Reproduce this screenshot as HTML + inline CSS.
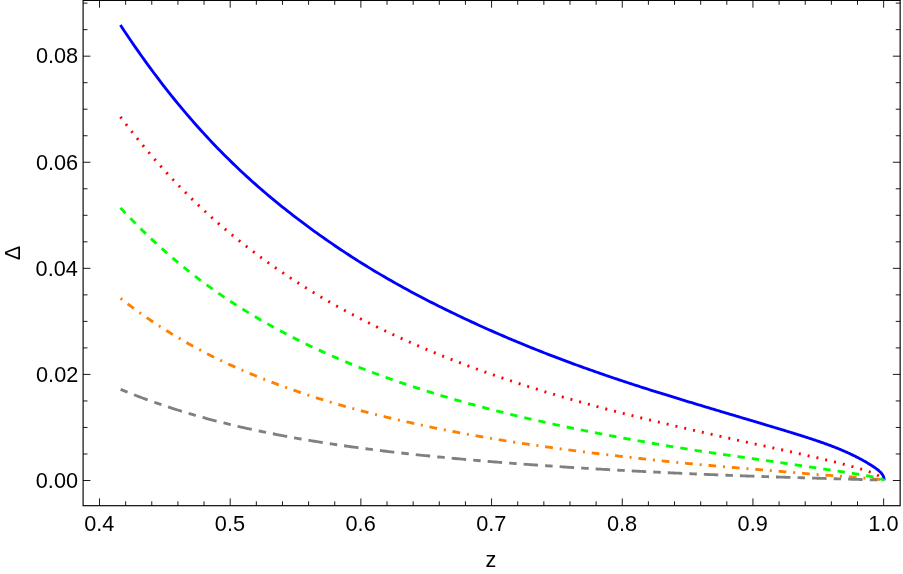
<!DOCTYPE html>
<html><head><meta charset="utf-8"><title>plot</title>
<style>html,body{margin:0;padding:0;background:#fff}svg{display:block}body{font-family:"Liberation Sans",sans-serif}</style></head>
<body>
<svg width="903" height="574" viewBox="0 0 903 574" style="will-change:transform">
<rect x="0" y="0" width="903" height="574" fill="#fff"/>
<path d="M120.40,25.02 L123.46,29.66 L126.51,34.24 L129.56,38.76 L132.60,43.21 L135.63,47.61 L138.66,51.94 L141.68,56.22 L144.69,60.43 L147.70,64.59 L150.70,68.69 L153.70,72.73 L156.69,76.72 L159.68,80.65 L162.65,84.52 L165.63,88.34 L168.59,92.11 L171.55,95.83 L174.51,99.49 L177.45,103.10 L180.40,106.66 L183.33,110.17 L186.26,113.63 L189.18,117.05 L192.10,120.41 L195.01,123.73 L197.92,127.00 L200.81,130.22 L203.71,133.40 L206.59,136.54 L209.47,139.63 L212.35,142.68 L215.22,145.68 L218.08,148.65 L220.93,151.57 L223.78,154.45 L226.63,157.29 L229.46,160.09 L232.29,162.86 L235.12,165.58 L237.94,168.27 L240.75,170.93 L243.56,173.54 L246.36,176.13 L249.15,178.67 L251.94,181.19 L254.72,183.67 L257.50,186.12 L260.27,188.54 L263.03,190.92 L265.79,193.28 L268.54,195.60 L271.28,197.90 L274.02,200.17 L276.76,202.41 L279.48,204.63 L282.20,206.82 L284.92,208.98 L287.63,211.12 L290.33,213.24 L293.03,215.33 L295.72,217.40 L298.40,219.44 L301.08,221.47 L303.75,223.47 L306.41,225.46 L309.07,227.42 L311.73,229.36 L314.37,231.29 L317.01,233.19 L319.65,235.07 L322.28,236.94 L324.90,238.78 L327.52,240.61 L330.13,242.41 L332.73,244.20 L335.33,245.97 L337.92,247.72 L340.51,249.45 L343.09,251.16 L345.66,252.86 L348.23,254.54 L350.79,256.20 L353.34,257.85 L355.89,259.47 L358.43,261.09 L360.97,262.68 L363.50,264.26 L366.03,265.82 L368.54,267.37 L371.06,268.90 L373.56,270.41 L376.06,271.91 L378.56,273.39 L381.04,274.86 L383.52,276.32 L386.00,277.76 L388.47,279.18 L390.93,280.60 L393.39,281.99 L395.84,283.38 L398.28,284.75 L400.72,286.10 L403.16,287.45 L405.58,288.78 L408.00,290.10 L410.42,291.40 L412.82,292.70 L415.22,293.98 L417.62,295.25 L420.01,296.50 L422.39,297.75 L424.77,298.98 L427.14,300.21 L429.51,301.42 L431.86,302.62 L434.22,303.81 L436.56,304.99 L438.90,306.16 L441.24,307.33 L443.57,308.48 L445.89,309.62 L448.20,310.75 L450.51,311.87 L452.82,312.99 L455.11,314.09 L457.41,315.19 L459.69,316.28 L461.97,317.36 L464.24,318.43 L466.51,319.49 L468.77,320.55 L471.02,321.60 L473.27,322.63 L475.51,323.66 L477.75,324.69 L479.98,325.70 L482.20,326.71 L484.42,327.71 L486.63,328.70 L488.84,329.68 L491.04,330.66 L493.23,331.62 L495.42,332.58 L497.60,333.54 L499.77,334.48 L501.94,335.42 L504.10,336.35 L506.26,337.27 L508.41,338.19 L510.56,339.10 L512.69,340.00 L514.82,340.90 L516.95,341.79 L519.07,342.67 L521.18,343.54 L523.29,344.41 L525.39,345.27 L527.49,346.12 L529.58,346.97 L531.66,347.81 L533.73,348.65 L535.80,349.47 L537.87,350.29 L539.93,351.11 L541.98,351.92 L544.02,352.72 L546.06,353.52 L548.10,354.31 L550.13,355.09 L552.15,355.87 L554.16,356.64 L556.17,357.41 L558.17,358.17 L560.17,358.93 L562.16,359.68 L564.15,360.42 L566.12,361.16 L568.10,361.89 L570.06,362.62 L572.02,363.34 L573.98,364.06 L575.92,364.77 L577.87,365.48 L579.80,366.18 L581.73,366.87 L583.65,367.57 L585.57,368.25 L587.48,368.93 L589.39,369.61 L591.29,370.28 L593.18,370.95 L595.06,371.61 L596.94,372.27 L598.82,372.92 L600.69,373.57 L602.55,374.21 L604.40,374.85 L606.25,375.49 L608.10,376.12 L609.93,376.74 L611.77,377.36 L613.59,377.98 L615.41,378.59 L617.22,379.20 L619.03,379.81 L620.83,380.41 L622.62,381.01 L624.41,381.60 L626.19,382.19 L627.97,382.77 L629.74,383.35 L631.50,383.93 L633.26,384.50 L635.01,385.07 L636.76,385.64 L638.50,386.20 L640.23,386.75 L641.96,387.31 L643.68,387.86 L645.39,388.41 L647.10,388.95 L648.80,389.49 L650.50,390.03 L652.19,390.56 L653.87,391.09 L655.55,391.62 L657.22,392.14 L658.89,392.67 L660.55,393.18 L662.20,393.70 L663.85,394.21 L665.49,394.72 L667.12,395.22 L668.75,395.73 L670.37,396.23 L671.99,396.72 L673.60,397.22 L675.21,397.71 L676.80,398.20 L678.40,398.68 L679.98,399.17 L681.56,399.65 L683.13,400.13 L684.70,400.60 L686.26,401.08 L687.82,401.55 L689.37,402.02 L690.91,402.48 L692.45,402.95 L693.98,403.41 L695.50,403.87 L697.02,404.33 L698.53,404.78 L700.04,405.23 L701.54,405.69 L703.03,406.13 L704.52,406.58 L706.00,407.03 L707.48,407.47 L708.95,407.91 L710.41,408.35 L711.87,408.78 L713.32,409.22 L714.76,409.65 L716.20,410.08 L717.63,410.51 L719.06,410.93 L720.48,411.36 L721.89,411.78 L723.30,412.20 L724.70,412.62 L726.10,413.04 L727.49,413.45 L728.87,413.86 L730.25,414.27 L731.62,414.68 L732.98,415.09 L734.34,415.49 L735.69,415.90 L737.04,416.30 L738.38,416.70 L739.72,417.09 L741.04,417.49 L742.37,417.88 L743.68,418.27 L744.99,418.66 L746.30,419.05 L747.59,419.44 L748.88,419.82 L750.17,420.20 L751.45,420.58 L752.72,420.96 L753.99,421.34 L755.25,421.72 L756.50,422.09 L757.75,422.46 L758.99,422.83 L760.23,423.20 L761.46,423.57 L762.68,423.94 L763.90,424.30 L765.11,424.66 L766.32,425.02 L767.52,425.38 L768.71,425.74 L769.90,426.09 L771.08,426.45 L772.25,426.80 L773.42,427.15 L774.58,427.50 L775.74,427.85 L776.89,428.20 L778.04,428.54 L779.17,428.88 L780.30,429.23 L781.43,429.57 L782.55,429.91 L783.66,430.24 L784.77,430.58 L785.87,430.91 L786.97,431.25 L788.06,431.58 L789.14,431.91 L790.22,432.24 L791.29,432.57 L792.35,432.90 L793.41,433.23 L794.46,433.55 L795.51,433.88 L796.55,434.20 L797.58,434.52 L798.61,434.84 L799.63,435.16 L800.64,435.48 L801.65,435.80 L802.66,436.12 L803.65,436.43 L804.64,436.75 L805.63,437.07 L806.61,437.38 L807.58,437.69 L808.55,438.01 L809.51,438.32 L810.46,438.63 L811.41,438.94 L812.35,439.25 L813.28,439.56 L814.21,439.87 L815.14,440.18 L816.05,440.49 L816.96,440.80 L817.87,441.11 L818.77,441.41 L819.66,441.72 L820.55,442.03 L821.43,442.33 L822.30,442.64 L823.17,442.94 L824.03,443.25 L824.89,443.55 L825.74,443.86 L826.58,444.16 L827.42,444.47 L828.25,444.77 L829.07,445.08 L829.89,445.38 L830.71,445.69 L831.51,445.99 L832.31,446.30 L833.11,446.60 L833.90,446.91 L834.68,447.21 L835.45,447.52 L836.22,447.82 L836.99,448.13 L837.75,448.43 L838.50,448.74 L839.24,449.05 L839.98,449.35 L840.71,449.66 L841.44,449.96 L842.16,450.27 L842.88,450.58 L843.59,450.88 L844.29,451.19 L844.98,451.50 L845.67,451.80 L846.36,452.11 L847.04,452.41 L847.71,452.72 L848.37,453.02 L849.03,453.32 L849.69,453.63 L850.33,453.93 L850.97,454.23 L851.61,454.54 L852.24,454.84 L852.86,455.14 L853.48,455.44 L854.09,455.74 L854.69,456.04 L855.29,456.34 L855.88,456.63 L856.47,456.93 L857.05,457.22 L857.62,457.52 L858.19,457.81 L858.75,458.10 L859.31,458.40 L859.85,458.69 L860.40,458.98 L860.93,459.26 L861.46,459.55 L861.99,459.84 L862.51,460.12 L863.02,460.41 L863.53,460.69 L864.03,460.97 L864.52,461.25 L865.01,461.52 L865.49,461.80 L865.96,462.08 L866.43,462.35 L866.90,462.62 L867.35,462.89 L867.80,463.16 L868.25,463.42 L868.69,463.69 L869.12,463.95 L869.55,464.21 L869.97,464.47 L870.38,464.73 L870.79,464.99 L871.19,465.24 L871.59,465.49 L871.98,465.74 L872.36,465.99 L872.74,466.23 L873.11,466.48 L873.47,466.72 L873.83,466.96 L874.18,467.19 L874.53,467.43 L874.87,467.66 L875.21,467.90 L875.53,468.13 L875.86,468.36 L876.17,468.59 L876.48,468.81 L876.79,469.04 L877.08,469.27 L877.37,469.49 L877.66,469.71 L877.94,469.94 L878.21,470.16 L878.48,470.38 L878.74,470.60 L878.99,470.82 L879.24,471.04 L879.48,471.26 L879.72,471.47 L879.95,471.69 L880.17,471.91 L880.39,472.13 L880.60,472.35 L880.81,472.57 L881.01,472.78 L881.20,473.00 L881.39,473.22 L881.57,473.44 L881.75,473.66 L881.91,473.88 L882.08,474.10 L882.23,474.32 L882.38,474.54 L882.53,474.77 L882.67,474.99 L882.80,475.21 L882.92,475.44 L883.04,475.67 L883.16,475.90 L883.26,476.13 L883.36,476.36 L883.46,476.59 L883.55,476.82 L883.63,477.06 L883.71,477.30 L883.78,477.53 L883.84,477.78 L883.90,478.02 L883.95,478.26 L884.00,478.51 L884.04,478.76 L884.07,479.01 L884.10,479.26 L884.12,479.52 L884.14,479.78 L884.15,480.04 L884.15,480.30" fill="none" stroke="#0000ff" stroke-width="2.85" stroke-linecap="butt" stroke-linejoin="round"/>
<path d="M120.40,116.81 L123.46,120.86 L126.51,124.85 L129.56,128.78 L132.60,132.65 L135.63,136.47 L138.66,140.23 L141.68,143.94 L144.69,147.59 L147.70,151.18 L150.70,154.73 L153.70,158.21 L156.69,161.65 L159.68,165.04 L162.65,168.37 L165.63,171.66 L168.59,174.90 L171.55,178.09 L174.51,181.23 L177.45,184.32 L180.40,187.37 L183.33,190.37 L186.26,193.33 L189.18,196.24 L192.10,199.11 L195.01,201.94 L197.92,204.72 L200.81,207.47 L203.71,210.17 L206.59,212.84 L209.47,215.46 L212.35,218.05 L215.22,220.60 L218.08,223.11 L220.93,225.59 L223.78,228.03 L226.63,230.43 L229.46,232.80 L232.29,235.14 L235.12,237.45 L237.94,239.73 L240.75,241.97 L243.56,244.18 L246.36,246.37 L249.15,248.52 L251.94,250.65 L254.72,252.75 L257.50,254.82 L260.27,256.87 L263.03,258.89 L265.79,260.89 L268.54,262.86 L271.28,264.81 L274.02,266.74 L276.76,268.64 L279.48,270.52 L282.20,272.38 L284.92,274.21 L287.63,276.03 L290.33,277.82 L293.03,279.59 L295.72,281.34 L298.40,283.07 L301.08,284.78 L303.75,286.47 L306.41,288.14 L309.07,289.78 L311.73,291.41 L314.37,293.02 L317.01,294.61 L319.65,296.18 L322.28,297.74 L324.90,299.27 L327.52,300.79 L330.13,302.29 L332.73,303.77 L335.33,305.23 L337.92,306.68 L340.51,308.11 L343.09,309.52 L345.66,310.92 L348.23,312.30 L350.79,313.67 L353.34,315.02 L355.89,316.35 L358.43,317.68 L360.97,318.98 L363.50,320.27 L366.03,321.55 L368.54,322.82 L371.06,324.07 L373.56,325.30 L376.06,326.53 L378.56,327.74 L381.04,328.94 L383.52,330.13 L386.00,331.30 L388.47,332.46 L390.93,333.61 L393.39,334.76 L395.84,335.88 L398.28,337.00 L400.72,338.11 L403.16,339.21 L405.58,340.30 L408.00,341.37 L410.42,342.44 L412.82,343.50 L415.22,344.54 L417.62,345.58 L420.01,346.61 L422.39,347.63 L424.77,348.63 L427.14,349.63 L429.51,350.62 L431.86,351.60 L434.22,352.57 L436.56,353.53 L438.90,354.48 L441.24,355.43 L443.57,356.36 L445.89,357.29 L448.20,358.20 L450.51,359.11 L452.82,360.01 L455.11,360.90 L457.41,361.79 L459.69,362.66 L461.97,363.53 L464.24,364.39 L466.51,365.24 L468.77,366.08 L471.02,366.92 L473.27,367.75 L475.51,368.57 L477.75,369.38 L479.98,370.19 L482.20,370.99 L484.42,371.78 L486.63,372.56 L488.84,373.34 L491.04,374.11 L493.23,374.87 L495.42,375.63 L497.60,376.38 L499.77,377.13 L501.94,377.86 L504.10,378.60 L506.26,379.32 L508.41,380.04 L510.56,380.75 L512.69,381.46 L514.82,382.16 L516.95,382.86 L519.07,383.55 L521.18,384.23 L523.29,384.91 L525.39,385.59 L527.49,386.25 L529.58,386.92 L531.66,387.57 L533.73,388.23 L535.80,388.87 L537.87,389.51 L539.93,390.15 L541.98,390.78 L544.02,391.40 L546.06,392.02 L548.10,392.64 L550.13,393.25 L552.15,393.85 L554.16,394.46 L556.17,395.05 L558.17,395.64 L560.17,396.23 L562.16,396.81 L564.15,397.39 L566.12,397.96 L568.10,398.53 L570.06,399.09 L572.02,399.65 L573.98,400.20 L575.92,400.75 L577.87,401.30 L579.80,401.84 L581.73,402.38 L583.65,402.91 L585.57,403.44 L587.48,403.96 L589.39,404.48 L591.29,405.00 L593.18,405.52 L595.06,406.02 L596.94,406.53 L598.82,407.03 L600.69,407.53 L602.55,408.03 L604.40,408.52 L606.25,409.00 L608.10,409.49 L609.93,409.97 L611.77,410.45 L613.59,410.92 L615.41,411.39 L617.22,411.86 L619.03,412.32 L620.83,412.78 L622.62,413.24 L624.41,413.69 L626.19,414.15 L627.97,414.59 L629.74,415.04 L631.50,415.48 L633.26,415.92 L635.01,416.36 L636.76,416.79 L638.50,417.22 L640.23,417.65 L641.96,418.07 L643.68,418.49 L645.39,418.91 L647.10,419.33 L648.80,419.74 L650.50,420.15 L652.19,420.56 L653.87,420.97 L655.55,421.37 L657.22,421.77 L658.89,422.17 L660.55,422.56 L662.20,422.95 L663.85,423.35 L665.49,423.73 L667.12,424.12 L668.75,424.50 L670.37,424.88 L671.99,425.26 L673.60,425.64 L675.21,426.01 L676.80,426.38 L678.40,426.75 L679.98,427.12 L681.56,427.49 L683.13,427.85 L684.70,428.21 L686.26,428.57 L687.82,428.93 L689.37,429.28 L690.91,429.64 L692.45,429.99 L693.98,430.34 L695.50,430.69 L697.02,431.03 L698.53,431.38 L700.04,431.72 L701.54,432.06 L703.03,432.40 L704.52,432.74 L706.00,433.07 L707.48,433.40 L708.95,433.74 L710.41,434.07 L711.87,434.39 L713.32,434.72 L714.76,435.05 L716.20,435.37 L717.63,435.69 L719.06,436.01 L720.48,436.33 L721.89,436.65 L723.30,436.96 L724.70,437.27 L726.10,437.58 L727.49,437.89 L728.87,438.20 L730.25,438.51 L731.62,438.81 L732.98,439.12 L734.34,439.42 L735.69,439.72 L737.04,440.02 L738.38,440.31 L739.72,440.61 L741.04,440.90 L742.37,441.19 L743.68,441.48 L744.99,441.77 L746.30,442.06 L747.59,442.35 L748.88,442.63 L750.17,442.91 L751.45,443.20 L752.72,443.48 L753.99,443.75 L755.25,444.03 L756.50,444.31 L757.75,444.58 L758.99,444.85 L760.23,445.12 L761.46,445.39 L762.68,445.66 L763.90,445.93 L765.11,446.19 L766.32,446.46 L767.52,446.72 L768.71,446.98 L769.90,447.24 L771.08,447.50 L772.25,447.75 L773.42,448.01 L774.58,448.26 L775.74,448.52 L776.89,448.77 L778.04,449.02 L779.17,449.27 L780.30,449.52 L781.43,449.76 L782.55,450.01 L783.66,450.25 L784.77,450.50 L785.87,450.74 L786.97,450.98 L788.06,451.22 L789.14,451.46 L790.22,451.69 L791.29,451.93 L792.35,452.17 L793.41,452.40 L794.46,452.63 L795.51,452.86 L796.55,453.10 L797.58,453.32 L798.61,453.55 L799.63,453.78 L800.64,454.01 L801.65,454.23 L802.66,454.46 L803.65,454.68 L804.64,454.91 L805.63,455.13 L806.61,455.35 L807.58,455.57 L808.55,455.79 L809.51,456.01 L810.46,456.22 L811.41,456.44 L812.35,456.65 L813.28,456.87 L814.21,457.08 L815.14,457.30 L816.05,457.51 L816.96,457.72 L817.87,457.93 L818.77,458.14 L819.66,458.35 L820.55,458.56 L821.43,458.77 L822.30,458.97 L823.17,459.18 L824.03,459.39 L824.89,459.59 L825.74,459.79 L826.58,460.00 L827.42,460.20 L828.25,460.40 L829.07,460.60 L829.89,460.80 L830.71,461.00 L831.51,461.20 L832.31,461.39 L833.11,461.59 L833.90,461.78 L834.68,461.98 L835.45,462.17 L836.22,462.36 L836.99,462.56 L837.75,462.75 L838.50,462.94 L839.24,463.13 L839.98,463.32 L840.71,463.50 L841.44,463.69 L842.16,463.88 L842.88,464.06 L843.59,464.25 L844.29,464.43 L844.98,464.61 L845.67,464.79 L846.36,464.97 L847.04,465.15 L847.71,465.33 L848.37,465.51 L849.03,465.69 L849.69,465.86 L850.33,466.04 L850.97,466.21 L851.61,466.39 L852.24,466.56 L852.86,466.73 L853.48,466.90 L854.09,467.07 L854.69,467.24 L855.29,467.41 L855.88,467.58 L856.47,467.75 L857.05,467.91 L857.62,468.08 L858.19,468.24 L858.75,468.41 L859.31,468.57 L859.85,468.73 L860.40,468.89 L860.93,469.05 L861.46,469.21 L861.99,469.37 L862.51,469.53 L863.02,469.69 L863.53,469.85 L864.03,470.00 L864.52,470.16 L865.01,470.32 L865.49,470.47 L865.96,470.63 L866.43,470.78 L866.90,470.94 L867.35,471.09 L867.80,471.25 L868.25,471.40 L868.69,471.55 L869.12,471.70 L869.55,471.86 L869.97,472.01 L870.38,472.16 L870.79,472.31 L871.19,472.46 L871.59,472.61 L871.98,472.76 L872.36,472.91 L872.74,473.07 L873.11,473.22 L873.47,473.37 L873.83,473.52 L874.18,473.67 L874.53,473.82 L874.87,473.97 L875.21,474.12 L875.53,474.27 L875.86,474.42 L876.17,474.57 L876.48,474.72 L876.79,474.87 L877.08,475.02 L877.37,475.17 L877.66,475.32 L877.94,475.47 L878.21,475.62 L878.48,475.77 L878.74,475.91 L878.99,476.06 L879.24,476.21 L879.48,476.35 L879.72,476.50 L879.95,476.64 L880.17,476.79 L880.39,476.93 L880.60,477.07 L880.81,477.21 L881.01,477.34 L881.20,477.48 L881.39,477.61 L881.57,477.74 L881.75,477.87 L881.91,478.00 L882.08,478.13 L882.23,478.25 L882.38,478.37 L882.53,478.49 L882.67,478.60 L882.80,478.72 L882.92,478.83 L883.04,478.93 L883.16,479.04 L883.26,479.14 L883.36,479.24 L883.46,479.33 L883.55,479.43 L883.63,479.51 L883.71,479.60 L883.78,479.68 L883.84,479.76 L883.90,479.83 L883.95,479.90 L884.00,479.96 L884.04,480.03 L884.07,480.08 L884.10,480.14 L884.12,480.18 L884.14,480.23 L884.15,480.27 L884.15,480.30" fill="none" stroke="#ff0000" stroke-width="2.85" stroke-linecap="butt" stroke-linejoin="round" stroke-dasharray="2.0 7.03" stroke-dashoffset="0"/>
<path d="M120.40,207.89 L123.46,211.14 L126.51,214.35 L129.56,217.51 L132.60,220.63 L135.63,223.69 L138.66,226.71 L141.68,229.69 L144.69,232.62 L147.70,235.51 L150.70,238.35 L153.70,241.15 L156.69,243.90 L159.68,246.62 L162.65,249.29 L165.63,251.92 L168.59,254.51 L171.55,257.06 L174.51,259.57 L177.45,262.05 L180.40,264.48 L183.33,266.88 L186.26,269.24 L189.18,271.57 L192.10,273.86 L195.01,276.11 L197.92,278.33 L200.81,280.52 L203.71,282.67 L206.59,284.79 L209.47,286.88 L212.35,288.94 L215.22,290.97 L218.08,292.96 L220.93,294.93 L223.78,296.87 L226.63,298.78 L229.46,300.66 L232.29,302.51 L235.12,304.34 L237.94,306.14 L240.75,307.91 L243.56,309.66 L246.36,311.39 L249.15,313.09 L251.94,314.77 L254.72,316.42 L257.50,318.06 L260.27,319.67 L263.03,321.26 L265.79,322.83 L268.54,324.38 L271.28,325.92 L274.02,327.43 L276.76,328.92 L279.48,330.40 L282.20,331.85 L284.92,333.29 L287.63,334.71 L290.33,336.11 L293.03,337.50 L295.72,338.86 L298.40,340.21 L301.08,341.54 L303.75,342.86 L306.41,344.16 L309.07,345.44 L311.73,346.71 L314.37,347.96 L317.01,349.19 L319.65,350.41 L322.28,351.61 L324.90,352.80 L327.52,353.97 L330.13,355.13 L332.73,356.28 L335.33,357.41 L337.92,358.52 L340.51,359.63 L343.09,360.72 L345.66,361.79 L348.23,362.85 L350.79,363.90 L353.34,364.94 L355.89,365.97 L358.43,366.98 L360.97,367.98 L363.50,368.97 L366.03,369.95 L368.54,370.91 L371.06,371.87 L373.56,372.81 L376.06,373.74 L378.56,374.67 L381.04,375.58 L383.52,376.48 L386.00,377.38 L388.47,378.26 L390.93,379.14 L393.39,380.00 L395.84,380.86 L398.28,381.71 L400.72,382.55 L403.16,383.38 L405.58,384.20 L408.00,385.01 L410.42,385.82 L412.82,386.62 L415.22,387.41 L417.62,388.19 L420.01,388.96 L422.39,389.73 L424.77,390.48 L427.14,391.24 L429.51,391.98 L431.86,392.71 L434.22,393.44 L436.56,394.16 L438.90,394.87 L441.24,395.58 L443.57,396.28 L445.89,396.97 L448.20,397.66 L450.51,398.33 L452.82,399.01 L455.11,399.67 L457.41,400.33 L459.69,400.98 L461.97,401.62 L464.24,402.26 L466.51,402.89 L468.77,403.52 L471.02,404.14 L473.27,404.75 L475.51,405.36 L477.75,405.96 L479.98,406.56 L482.20,407.15 L484.42,407.74 L486.63,408.31 L488.84,408.89 L491.04,409.46 L493.23,410.02 L495.42,410.58 L497.60,411.13 L499.77,411.68 L501.94,412.22 L504.10,412.76 L506.26,413.29 L508.41,413.82 L510.56,414.34 L512.69,414.86 L514.82,415.37 L516.95,415.88 L519.07,416.39 L521.18,416.89 L523.29,417.39 L525.39,417.88 L527.49,418.37 L529.58,418.85 L531.66,419.33 L533.73,419.80 L535.80,420.27 L537.87,420.74 L539.93,421.20 L541.98,421.66 L544.02,422.12 L546.06,422.57 L548.10,423.02 L550.13,423.46 L552.15,423.90 L554.16,424.34 L556.17,424.77 L558.17,425.20 L560.17,425.62 L562.16,426.04 L564.15,426.46 L566.12,426.88 L568.10,427.29 L570.06,427.70 L572.02,428.10 L573.98,428.50 L575.92,428.90 L577.87,429.30 L579.80,429.69 L581.73,430.08 L583.65,430.46 L585.57,430.85 L587.48,431.23 L589.39,431.60 L591.29,431.98 L593.18,432.35 L595.06,432.72 L596.94,433.08 L598.82,433.45 L600.69,433.81 L602.55,434.16 L604.40,434.52 L606.25,434.87 L608.10,435.22 L609.93,435.57 L611.77,435.92 L613.59,436.26 L615.41,436.60 L617.22,436.94 L619.03,437.28 L620.83,437.61 L622.62,437.94 L624.41,438.27 L626.19,438.60 L627.97,438.92 L629.74,439.24 L631.50,439.56 L633.26,439.88 L635.01,440.20 L636.76,440.51 L638.50,440.82 L640.23,441.13 L641.96,441.44 L643.68,441.74 L645.39,442.04 L647.10,442.34 L648.80,442.64 L650.50,442.93 L652.19,443.23 L653.87,443.52 L655.55,443.81 L657.22,444.09 L658.89,444.38 L660.55,444.66 L662.20,444.94 L663.85,445.22 L665.49,445.49 L667.12,445.77 L668.75,446.04 L670.37,446.31 L671.99,446.57 L673.60,446.84 L675.21,447.10 L676.80,447.36 L678.40,447.62 L679.98,447.88 L681.56,448.13 L683.13,448.39 L684.70,448.64 L686.26,448.88 L687.82,449.13 L689.37,449.37 L690.91,449.62 L692.45,449.86 L693.98,450.10 L695.50,450.33 L697.02,450.57 L698.53,450.80 L700.04,451.03 L701.54,451.26 L703.03,451.48 L704.52,451.71 L706.00,451.93 L707.48,452.15 L708.95,452.37 L710.41,452.59 L711.87,452.81 L713.32,453.02 L714.76,453.23 L716.20,453.45 L717.63,453.66 L719.06,453.86 L720.48,454.07 L721.89,454.28 L723.30,454.48 L724.70,454.68 L726.10,454.88 L727.49,455.08 L728.87,455.28 L730.25,455.48 L731.62,455.67 L732.98,455.87 L734.34,456.06 L735.69,456.25 L737.04,456.45 L738.38,456.64 L739.72,456.82 L741.04,457.01 L742.37,457.20 L743.68,457.39 L744.99,457.57 L746.30,457.75 L747.59,457.94 L748.88,458.12 L750.17,458.30 L751.45,458.48 L752.72,458.66 L753.99,458.84 L755.25,459.02 L756.50,459.19 L757.75,459.37 L758.99,459.55 L760.23,459.72 L761.46,459.90 L762.68,460.07 L763.90,460.25 L765.11,460.42 L766.32,460.59 L767.52,460.76 L768.71,460.94 L769.90,461.11 L771.08,461.28 L772.25,461.45 L773.42,461.62 L774.58,461.78 L775.74,461.95 L776.89,462.12 L778.04,462.28 L779.17,462.45 L780.30,462.62 L781.43,462.78 L782.55,462.94 L783.66,463.11 L784.77,463.27 L785.87,463.43 L786.97,463.59 L788.06,463.75 L789.14,463.91 L790.22,464.07 L791.29,464.23 L792.35,464.38 L793.41,464.54 L794.46,464.70 L795.51,464.85 L796.55,465.00 L797.58,465.16 L798.61,465.31 L799.63,465.46 L800.64,465.61 L801.65,465.76 L802.66,465.91 L803.65,466.06 L804.64,466.20 L805.63,466.35 L806.61,466.50 L807.58,466.64 L808.55,466.78 L809.51,466.93 L810.46,467.07 L811.41,467.21 L812.35,467.35 L813.28,467.49 L814.21,467.62 L815.14,467.76 L816.05,467.90 L816.96,468.03 L817.87,468.16 L818.77,468.30 L819.66,468.43 L820.55,468.56 L821.43,468.69 L822.30,468.82 L823.17,468.95 L824.03,469.07 L824.89,469.20 L825.74,469.33 L826.58,469.45 L827.42,469.57 L828.25,469.70 L829.07,469.82 L829.89,469.94 L830.71,470.06 L831.51,470.18 L832.31,470.30 L833.11,470.41 L833.90,470.53 L834.68,470.65 L835.45,470.76 L836.22,470.88 L836.99,470.99 L837.75,471.10 L838.50,471.21 L839.24,471.33 L839.98,471.44 L840.71,471.55 L841.44,471.66 L842.16,471.76 L842.88,471.87 L843.59,471.98 L844.29,472.08 L844.98,472.19 L845.67,472.30 L846.36,472.40 L847.04,472.50 L847.71,472.61 L848.37,472.71 L849.03,472.81 L849.69,472.91 L850.33,473.01 L850.97,473.11 L851.61,473.21 L852.24,473.31 L852.86,473.41 L853.48,473.50 L854.09,473.60 L854.69,473.70 L855.29,473.79 L855.88,473.89 L856.47,473.98 L857.05,474.08 L857.62,474.17 L858.19,474.26 L858.75,474.36 L859.31,474.45 L859.85,474.54 L860.40,474.63 L860.93,474.72 L861.46,474.81 L861.99,474.90 L862.51,474.99 L863.02,475.08 L863.53,475.17 L864.03,475.25 L864.52,475.34 L865.01,475.43 L865.49,475.51 L865.96,475.60 L866.43,475.69 L866.90,475.77 L867.35,475.85 L867.80,475.94 L868.25,476.02 L868.69,476.11 L869.12,476.19 L869.55,476.27 L869.97,476.35 L870.38,476.43 L870.79,476.51 L871.19,476.60 L871.59,476.68 L871.98,476.76 L872.36,476.84 L872.74,476.91 L873.11,476.99 L873.47,477.07 L873.83,477.15 L874.18,477.23 L874.53,477.30 L874.87,477.38 L875.21,477.46 L875.53,477.53 L875.86,477.61 L876.17,477.69 L876.48,477.76 L876.79,477.84 L877.08,477.91 L877.37,477.98 L877.66,478.06 L877.94,478.13 L878.21,478.20 L878.48,478.28 L878.74,478.35 L878.99,478.42 L879.24,478.49 L879.48,478.56 L879.72,478.63 L879.95,478.70 L880.17,478.76 L880.39,478.83 L880.60,478.89 L880.81,478.96 L881.01,479.02 L881.20,479.09 L881.39,479.15 L881.57,479.21 L881.75,479.27 L881.91,479.32 L882.08,479.38 L882.23,479.44 L882.38,479.49 L882.53,479.54 L882.67,479.60 L882.80,479.65 L882.92,479.69 L883.04,479.74 L883.16,479.79 L883.26,479.83 L883.36,479.87 L883.46,479.91 L883.55,479.95 L883.63,479.99 L883.71,480.03 L883.78,480.06 L883.84,480.09 L883.90,480.12 L883.95,480.15 L884.00,480.18 L884.04,480.20 L884.07,480.22 L884.10,480.24 L884.12,480.26 L884.14,480.28 L884.15,480.29 L884.15,480.30" fill="none" stroke="#00ff00" stroke-width="2.85" stroke-linecap="butt" stroke-linejoin="round" stroke-dasharray="7.4 7.05" stroke-dashoffset="0"/>
<path d="M120.60,298.46 L123.66,300.82 L126.71,303.15 L129.75,305.44 L132.79,307.69 L135.82,309.90 L138.85,312.08 L141.87,314.23 L144.89,316.34 L147.89,318.42 L150.90,320.46 L153.89,322.47 L156.88,324.44 L159.87,326.39 L162.84,328.30 L165.81,330.18 L168.78,332.03 L171.74,333.85 L174.69,335.64 L177.64,337.40 L180.58,339.13 L183.51,340.84 L186.44,342.51 L189.37,344.16 L192.28,345.78 L195.19,347.37 L198.10,348.94 L200.99,350.48 L203.88,352.00 L206.77,353.49 L209.65,354.96 L212.52,356.41 L215.39,357.83 L218.25,359.22 L221.11,360.60 L223.95,361.95 L226.80,363.29 L229.63,364.60 L232.46,365.89 L235.29,367.16 L238.11,368.41 L240.92,369.65 L243.72,370.86 L246.52,372.06 L249.32,373.23 L252.10,374.40 L254.89,375.54 L257.66,376.67 L260.43,377.78 L263.19,378.88 L265.95,379.96 L268.70,381.03 L271.44,382.09 L274.18,383.13 L276.92,384.15 L279.64,385.17 L282.36,386.17 L285.08,387.15 L287.78,388.13 L290.48,389.09 L293.18,390.04 L295.87,390.97 L298.55,391.90 L301.23,392.81 L303.90,393.70 L306.57,394.59 L309.22,395.47 L311.88,396.33 L314.52,397.18 L317.16,398.02 L319.80,398.85 L322.42,399.67 L325.05,400.48 L327.66,401.28 L330.27,402.06 L332.88,402.84 L335.47,403.61 L338.06,404.36 L340.65,405.11 L343.23,405.85 L345.80,406.58 L348.37,407.29 L350.93,408.00 L353.48,408.70 L356.03,409.40 L358.57,410.08 L361.11,410.75 L363.64,411.42 L366.16,412.08 L368.68,412.73 L371.19,413.37 L373.70,414.01 L376.20,414.63 L378.69,415.25 L381.17,415.87 L383.66,416.47 L386.13,417.07 L388.60,417.67 L391.06,418.25 L393.52,418.83 L395.97,419.41 L398.41,419.98 L400.85,420.54 L403.28,421.09 L405.71,421.64 L408.13,422.19 L410.54,422.73 L412.95,423.26 L415.35,423.79 L417.74,424.31 L420.13,424.83 L422.51,425.34 L424.89,425.85 L427.26,426.35 L429.62,426.84 L431.98,427.33 L434.33,427.82 L436.68,428.30 L439.02,428.77 L441.35,429.24 L443.68,429.71 L446.00,430.17 L448.32,430.62 L450.63,431.07 L452.93,431.52 L455.23,431.96 L457.52,432.40 L459.80,432.83 L462.08,433.25 L464.35,433.68 L466.62,434.09 L468.88,434.51 L471.13,434.92 L473.38,435.32 L475.62,435.72 L477.86,436.12 L480.09,436.51 L482.31,436.90 L484.53,437.28 L486.74,437.66 L488.94,438.04 L491.14,438.41 L493.33,438.78 L495.52,439.14 L497.70,439.50 L499.87,439.86 L502.04,440.21 L504.20,440.56 L506.36,440.91 L508.51,441.25 L510.65,441.59 L512.79,441.93 L514.92,442.26 L517.05,442.59 L519.17,442.92 L521.28,443.24 L523.38,443.56 L525.49,443.88 L527.58,444.19 L529.67,444.50 L531.75,444.81 L533.83,445.11 L535.90,445.41 L537.96,445.71 L540.02,446.01 L542.07,446.30 L544.11,446.59 L546.15,446.88 L548.19,447.16 L550.21,447.44 L552.23,447.72 L554.25,448.00 L556.26,448.27 L558.26,448.54 L560.26,448.81 L562.25,449.08 L564.23,449.34 L566.21,449.60 L568.18,449.86 L570.15,450.12 L572.10,450.37 L574.06,450.63 L576.01,450.88 L577.95,451.13 L579.88,451.37 L581.81,451.62 L583.73,451.86 L585.65,452.10 L587.56,452.33 L589.46,452.57 L591.36,452.80 L593.25,453.04 L595.14,453.27 L597.02,453.50 L598.89,453.72 L600.76,453.95 L602.62,454.17 L604.48,454.39 L606.33,454.61 L608.17,454.83 L610.01,455.05 L611.84,455.26 L613.66,455.48 L615.48,455.69 L617.29,455.90 L619.10,456.11 L620.90,456.32 L622.69,456.53 L624.48,456.73 L626.26,456.94 L628.04,457.14 L629.81,457.34 L631.57,457.54 L633.33,457.74 L635.08,457.94 L636.82,458.13 L638.56,458.33 L640.29,458.52 L642.02,458.71 L643.74,458.90 L645.45,459.09 L647.16,459.27 L648.86,459.46 L650.56,459.64 L652.25,459.82 L653.93,460.00 L655.61,460.18 L657.28,460.36 L658.95,460.54 L660.61,460.71 L662.26,460.88 L663.91,461.06 L665.55,461.23 L667.18,461.40 L668.81,461.56 L670.43,461.73 L672.05,461.89 L673.66,462.06 L675.26,462.22 L676.86,462.38 L678.45,462.54 L680.03,462.69 L681.61,462.85 L683.19,463.00 L684.75,463.16 L686.31,463.31 L687.87,463.46 L689.42,463.61 L690.96,463.75 L692.50,463.90 L694.03,464.04 L695.55,464.19 L697.07,464.33 L698.58,464.47 L700.09,464.61 L701.59,464.74 L703.08,464.88 L704.57,465.01 L706.05,465.15 L707.52,465.28 L708.99,465.41 L710.45,465.54 L711.91,465.67 L713.36,465.79 L714.81,465.92 L716.24,466.05 L717.68,466.17 L719.10,466.29 L720.52,466.41 L721.93,466.54 L723.34,466.66 L724.74,466.77 L726.14,466.89 L727.53,467.01 L728.91,467.13 L730.29,467.24 L731.66,467.36 L733.02,467.47 L734.38,467.58 L735.73,467.70 L737.08,467.81 L738.42,467.92 L739.75,468.03 L741.08,468.14 L742.40,468.25 L743.72,468.35 L745.03,468.46 L746.33,468.57 L747.63,468.68 L748.92,468.78 L750.20,468.89 L751.48,468.99 L752.76,469.10 L754.02,469.20 L755.28,469.31 L756.54,469.41 L757.78,469.51 L759.03,469.62 L760.26,469.72 L761.49,469.82 L762.72,469.92 L763.93,470.02 L765.14,470.13 L766.35,470.23 L767.55,470.33 L768.74,470.43 L769.93,470.53 L771.11,470.63 L772.28,470.73 L773.45,470.83 L774.61,470.93 L775.77,471.03 L776.92,471.13 L778.06,471.22 L779.20,471.32 L780.33,471.42 L781.46,471.52 L782.58,471.61 L783.69,471.71 L784.80,471.80 L785.90,471.90 L786.99,471.99 L788.08,472.08 L789.16,472.18 L790.24,472.27 L791.31,472.36 L792.37,472.45 L793.43,472.54 L794.48,472.63 L795.53,472.72 L796.57,472.81 L797.60,472.90 L798.63,472.99 L799.65,473.07 L800.67,473.16 L801.67,473.24 L802.68,473.33 L803.67,473.41 L804.66,473.49 L805.65,473.57 L806.63,473.66 L807.60,473.74 L808.56,473.82 L809.52,473.89 L810.48,473.97 L811.43,474.05 L812.37,474.12 L813.30,474.20 L814.23,474.27 L815.15,474.34 L816.07,474.42 L816.98,474.49 L817.89,474.56 L818.79,474.63 L819.68,474.69 L820.56,474.76 L821.44,474.83 L822.32,474.89 L823.19,474.96 L824.05,475.02 L824.90,475.09 L825.75,475.15 L826.60,475.21 L827.43,475.27 L828.26,475.33 L829.09,475.39 L829.91,475.45 L830.72,475.51 L831.53,475.56 L832.33,475.62 L833.12,475.68 L833.91,475.73 L834.69,475.79 L835.47,475.84 L836.24,475.90 L837.00,475.95 L837.76,476.00 L838.51,476.06 L839.25,476.11 L839.99,476.16 L840.73,476.21 L841.45,476.26 L842.17,476.31 L842.89,476.36 L843.60,476.41 L844.30,476.46 L844.99,476.51 L845.68,476.56 L846.37,476.61 L847.05,476.66 L847.72,476.71 L848.38,476.75 L849.04,476.80 L849.70,476.85 L850.34,476.90 L850.98,476.95 L851.62,476.99 L852.25,477.04 L852.87,477.09 L853.49,477.14 L854.10,477.18 L854.70,477.23 L855.30,477.28 L855.89,477.33 L856.48,477.37 L857.05,477.42 L857.63,477.47 L858.20,477.51 L858.76,477.56 L859.31,477.61 L859.86,477.66 L860.40,477.70 L860.94,477.75 L861.47,477.79 L861.99,477.84 L862.51,477.89 L863.03,477.93 L863.53,477.98 L864.03,478.02 L864.52,478.07 L865.01,478.11 L865.49,478.16 L865.97,478.20 L866.44,478.24 L866.90,478.29 L867.36,478.33 L867.81,478.37 L868.25,478.41 L868.69,478.45 L869.12,478.50 L869.55,478.54 L869.97,478.58 L870.38,478.62 L870.79,478.66 L871.19,478.69 L871.59,478.73 L871.98,478.77 L872.36,478.81 L872.74,478.84 L873.11,478.88 L873.48,478.91 L873.83,478.95 L874.19,478.98 L874.53,479.02 L874.87,479.05 L875.21,479.08 L875.54,479.11 L875.86,479.14 L876.17,479.17 L876.48,479.20 L876.79,479.23 L877.08,479.26 L877.38,479.29 L877.66,479.31 L877.94,479.34 L878.21,479.37 L878.48,479.39 L878.74,479.41 L879.00,479.44 L879.24,479.46 L879.49,479.48 L879.72,479.51 L879.95,479.53 L880.18,479.55 L880.39,479.57 L880.61,479.59 L880.81,479.61 L881.01,479.63 L881.20,479.65 L881.39,479.67 L881.57,479.69 L881.75,479.71 L881.91,479.73 L882.08,479.75 L882.23,479.77 L882.38,479.79 L882.53,479.81 L882.67,479.82 L882.80,479.84 L882.92,479.86 L883.04,479.88 L883.16,479.90 L883.26,479.92 L883.36,479.94 L883.46,479.96 L883.55,479.98 L883.63,480.00 L883.71,480.02 L883.78,480.04 L883.84,480.06 L883.90,480.08 L883.95,480.11 L884.00,480.13 L884.04,480.15 L884.07,480.18 L884.10,480.20 L884.12,480.22 L884.14,480.25 L884.15,480.27 L884.15,480.30" fill="none" stroke="#ff8000" stroke-width="2.85" stroke-linecap="butt" stroke-linejoin="round" stroke-dasharray="2.0 6.84 7.8 6.84" stroke-dashoffset="0"/>
<path d="M120.60,389.41 L123.66,390.66 L126.71,391.89 L129.75,393.10 L132.79,394.29 L135.82,395.46 L138.85,396.61 L141.87,397.75 L144.89,398.86 L147.89,399.96 L150.90,401.04 L153.89,402.10 L156.88,403.15 L159.87,404.18 L162.84,405.19 L165.81,406.19 L168.78,407.17 L171.74,408.13 L174.69,409.08 L177.64,410.01 L180.58,410.93 L183.51,411.83 L186.44,412.71 L189.37,413.58 L192.28,414.44 L195.19,415.28 L198.10,416.11 L200.99,416.93 L203.88,417.73 L206.77,418.52 L209.65,419.29 L212.52,420.05 L215.39,420.80 L218.25,421.54 L221.11,422.27 L223.95,422.98 L226.80,423.68 L229.63,424.37 L232.46,425.05 L235.29,425.72 L238.11,426.37 L240.92,427.02 L243.72,427.65 L246.52,428.28 L249.32,428.89 L252.10,429.50 L254.89,430.10 L257.66,430.68 L260.43,431.26 L263.19,431.83 L265.95,432.39 L268.70,432.94 L271.44,433.49 L274.18,434.02 L276.92,434.55 L279.64,435.07 L282.36,435.59 L285.08,436.10 L287.78,436.60 L290.48,437.09 L293.18,437.58 L295.87,438.06 L298.55,438.53 L301.23,439.00 L303.90,439.46 L306.57,439.91 L309.22,440.36 L311.88,440.80 L314.52,441.24 L317.16,441.67 L319.80,442.09 L322.42,442.51 L325.05,442.92 L327.66,443.32 L330.27,443.72 L332.88,444.12 L335.47,444.51 L338.06,444.89 L340.65,445.27 L343.23,445.64 L345.80,446.01 L348.37,446.38 L350.93,446.73 L353.48,447.09 L356.03,447.44 L358.57,447.78 L361.11,448.12 L363.64,448.45 L366.16,448.78 L368.68,449.11 L371.19,449.43 L373.70,449.74 L376.20,450.06 L378.69,450.37 L381.17,450.67 L383.66,450.97 L386.13,451.27 L388.60,451.56 L391.06,451.85 L393.52,452.13 L395.97,452.41 L398.41,452.69 L400.85,452.97 L403.28,453.24 L405.71,453.51 L408.13,453.77 L410.54,454.04 L412.95,454.29 L415.35,454.55 L417.74,454.80 L420.13,455.05 L422.51,455.30 L424.89,455.55 L427.26,455.79 L429.62,456.03 L431.98,456.27 L434.33,456.50 L436.68,456.74 L439.02,456.97 L441.35,457.20 L443.68,457.42 L446.00,457.64 L448.32,457.86 L450.63,458.08 L452.93,458.30 L455.23,458.51 L457.52,458.73 L459.80,458.93 L462.08,459.14 L464.35,459.35 L466.62,459.55 L468.88,459.75 L471.13,459.95 L473.38,460.15 L475.62,460.34 L477.86,460.53 L480.09,460.72 L482.31,460.91 L484.53,461.10 L486.74,461.28 L488.94,461.46 L491.14,461.65 L493.33,461.82 L495.52,462.00 L497.70,462.18 L499.87,462.35 L502.04,462.52 L504.20,462.69 L506.36,462.86 L508.51,463.03 L510.65,463.19 L512.79,463.35 L514.92,463.51 L517.05,463.67 L519.17,463.83 L521.28,463.99 L523.38,464.14 L525.49,464.30 L527.58,464.45 L529.67,464.60 L531.75,464.75 L533.83,464.90 L535.90,465.04 L537.96,465.19 L540.02,465.33 L542.07,465.48 L544.11,465.62 L546.15,465.76 L548.19,465.89 L550.21,466.03 L552.23,466.17 L554.25,466.30 L556.26,466.44 L558.26,466.57 L560.26,466.70 L562.25,466.83 L564.23,466.96 L566.21,467.09 L568.18,467.21 L570.15,467.34 L572.10,467.46 L574.06,467.59 L576.01,467.71 L577.95,467.83 L579.88,467.95 L581.81,468.07 L583.73,468.19 L585.65,468.30 L587.56,468.42 L589.46,468.53 L591.36,468.65 L593.25,468.76 L595.14,468.87 L597.02,468.98 L598.89,469.09 L600.76,469.20 L602.62,469.31 L604.48,469.41 L606.33,469.52 L608.17,469.62 L610.01,469.73 L611.84,469.83 L613.66,469.93 L615.48,470.03 L617.29,470.13 L619.10,470.23 L620.90,470.33 L622.69,470.43 L624.48,470.52 L626.26,470.62 L628.04,470.71 L629.81,470.81 L631.57,470.90 L633.33,470.99 L635.08,471.08 L636.82,471.17 L638.56,471.26 L640.29,471.35 L642.02,471.44 L643.74,471.53 L645.45,471.61 L647.16,471.70 L648.86,471.79 L650.56,471.87 L652.25,471.95 L653.93,472.04 L655.61,472.12 L657.28,472.20 L658.95,472.28 L660.61,472.36 L662.26,472.44 L663.91,472.52 L665.55,472.60 L667.18,472.68 L668.81,472.75 L670.43,472.83 L672.05,472.90 L673.66,472.98 L675.26,473.05 L676.86,473.13 L678.45,473.20 L680.03,473.27 L681.61,473.34 L683.19,473.41 L684.75,473.48 L686.31,473.55 L687.87,473.62 L689.42,473.69 L690.96,473.76 L692.50,473.83 L694.03,473.89 L695.55,473.96 L697.07,474.02 L698.58,474.09 L700.09,474.15 L701.59,474.22 L703.08,474.28 L704.57,474.34 L706.05,474.40 L707.52,474.46 L708.99,474.52 L710.45,474.58 L711.91,474.64 L713.36,474.70 L714.81,474.76 L716.24,474.82 L717.68,474.88 L719.10,474.93 L720.52,474.99 L721.93,475.04 L723.34,475.10 L724.74,475.15 L726.14,475.21 L727.53,475.26 L728.91,475.31 L730.29,475.37 L731.66,475.42 L733.02,475.47 L734.38,475.52 L735.73,475.57 L737.08,475.62 L738.42,475.67 L739.75,475.72 L741.08,475.77 L742.40,475.82 L743.72,475.86 L745.03,475.91 L746.33,475.96 L747.63,476.00 L748.92,476.05 L750.20,476.09 L751.48,476.14 L752.76,476.18 L754.02,476.23 L755.28,476.27 L756.54,476.31 L757.78,476.36 L759.03,476.40 L760.26,476.44 L761.49,476.48 L762.72,476.52 L763.93,476.56 L765.14,476.60 L766.35,476.64 L767.55,476.68 L768.74,476.72 L769.93,476.76 L771.11,476.80 L772.28,476.84 L773.45,476.87 L774.61,476.91 L775.77,476.95 L776.92,476.98 L778.06,477.02 L779.20,477.06 L780.33,477.09 L781.46,477.13 L782.58,477.16 L783.69,477.20 L784.80,477.23 L785.90,477.27 L786.99,477.30 L788.08,477.33 L789.16,477.37 L790.24,477.40 L791.31,477.43 L792.37,477.47 L793.43,477.50 L794.48,477.53 L795.53,477.56 L796.57,477.59 L797.60,477.63 L798.63,477.66 L799.65,477.69 L800.67,477.72 L801.67,477.75 L802.68,477.78 L803.67,477.81 L804.66,477.84 L805.65,477.87 L806.63,477.90 L807.60,477.93 L808.56,477.95 L809.52,477.98 L810.48,478.01 L811.43,478.04 L812.37,478.07 L813.30,478.10 L814.23,478.12 L815.15,478.15 L816.07,478.18 L816.98,478.21 L817.89,478.23 L818.79,478.26 L819.68,478.29 L820.56,478.31 L821.44,478.34 L822.32,478.36 L823.19,478.39 L824.05,478.42 L824.90,478.44 L825.75,478.47 L826.60,478.49 L827.43,478.52 L828.26,478.54 L829.09,478.56 L829.91,478.59 L830.72,478.61 L831.53,478.64 L832.33,478.66 L833.12,478.68 L833.91,478.71 L834.69,478.73 L835.47,478.75 L836.24,478.78 L837.00,478.80 L837.76,478.82 L838.51,478.84 L839.25,478.87 L839.99,478.89 L840.73,478.91 L841.45,478.93 L842.17,478.95 L842.89,478.97 L843.60,479.00 L844.30,479.02 L844.99,479.04 L845.68,479.06 L846.37,479.08 L847.05,479.10 L847.72,479.12 L848.38,479.14 L849.04,479.16 L849.70,479.18 L850.34,479.20 L850.98,479.22 L851.62,479.24 L852.25,479.26 L852.87,479.28 L853.49,479.29 L854.10,479.31 L854.70,479.33 L855.30,479.35 L855.89,479.37 L856.48,479.38 L857.05,479.40 L857.63,479.42 L858.20,479.44 L858.76,479.45 L859.31,479.47 L859.86,479.49 L860.40,479.50 L860.94,479.52 L861.47,479.54 L861.99,479.55 L862.51,479.57 L863.03,479.58 L863.53,479.60 L864.03,479.61 L864.52,479.63 L865.01,479.64 L865.49,479.66 L865.97,479.67 L866.44,479.68 L866.90,479.70 L867.36,479.71 L867.81,479.72 L868.25,479.74 L868.69,479.75 L869.12,479.76 L869.55,479.77 L869.97,479.78 L870.38,479.80 L870.79,479.81 L871.19,479.82 L871.59,479.83 L871.98,479.84 L872.36,479.85 L872.74,479.86 L873.11,479.87 L873.48,479.88 L873.83,479.88 L874.19,479.89 L874.53,479.90 L874.87,479.91 L875.21,479.92 L875.54,479.92 L875.86,479.93 L876.17,479.94 L876.48,479.95 L876.79,479.95 L877.08,479.96 L877.38,479.96 L877.66,479.97 L877.94,479.98 L878.21,479.98 L878.48,479.99 L878.74,479.99 L879.00,480.00 L879.24,480.00 L879.49,480.01 L879.72,480.01 L879.95,480.02 L880.18,480.02 L880.39,480.03 L880.61,480.03 L880.81,480.04 L881.01,480.04 L881.20,480.05 L881.39,480.05 L881.57,480.06 L881.75,480.06 L881.91,480.07 L882.08,480.07 L882.23,480.08 L882.38,480.08 L882.53,480.09 L882.67,480.09 L882.80,480.10 L882.92,480.11 L883.04,480.11 L883.16,480.12 L883.26,480.13 L883.36,480.13 L883.46,480.14 L883.55,480.15 L883.63,480.16 L883.71,480.17 L883.78,480.18 L883.84,480.19 L883.90,480.19 L883.95,480.20 L884.00,480.21 L884.04,480.23 L884.07,480.24 L884.10,480.25 L884.12,480.26 L884.14,480.27 L884.15,480.29 L884.15,480.30" fill="none" stroke="#808080" stroke-width="2.85" stroke-linecap="butt" stroke-linejoin="round" stroke-dasharray="7.5 7.0 14.5 7.1" stroke-dashoffset="0"/>
<path d="M99.50,505.7 v-7.3 M99.50,0.4 v7.3 M125.64,505.7 v-4.4 M125.64,0.4 v4.4 M151.78,505.7 v-4.4 M151.78,0.4 v4.4 M177.91,505.7 v-4.4 M177.91,0.4 v4.4 M204.05,505.7 v-4.4 M204.05,0.4 v4.4 M230.19,505.7 v-7.3 M230.19,0.4 v7.3 M256.33,505.7 v-4.4 M256.33,0.4 v4.4 M282.47,505.7 v-4.4 M282.47,0.4 v4.4 M308.60,505.7 v-4.4 M308.60,0.4 v4.4 M334.74,505.7 v-4.4 M334.74,0.4 v4.4 M360.88,505.7 v-7.3 M360.88,0.4 v7.3 M387.02,505.7 v-4.4 M387.02,0.4 v4.4 M413.16,505.7 v-4.4 M413.16,0.4 v4.4 M439.29,505.7 v-4.4 M439.29,0.4 v4.4 M465.43,505.7 v-4.4 M465.43,0.4 v4.4 M491.57,505.7 v-7.3 M491.57,0.4 v7.3 M517.71,505.7 v-4.4 M517.71,0.4 v4.4 M543.85,505.7 v-4.4 M543.85,0.4 v4.4 M569.98,505.7 v-4.4 M569.98,0.4 v4.4 M596.12,505.7 v-4.4 M596.12,0.4 v4.4 M622.26,505.7 v-7.3 M622.26,0.4 v7.3 M648.40,505.7 v-4.4 M648.40,0.4 v4.4 M674.54,505.7 v-4.4 M674.54,0.4 v4.4 M700.67,505.7 v-4.4 M700.67,0.4 v4.4 M726.81,505.7 v-4.4 M726.81,0.4 v4.4 M752.95,505.7 v-7.3 M752.95,0.4 v7.3 M779.09,505.7 v-4.4 M779.09,0.4 v4.4 M805.23,505.7 v-4.4 M805.23,0.4 v4.4 M831.36,505.7 v-4.4 M831.36,0.4 v4.4 M857.50,505.7 v-4.4 M857.50,0.4 v4.4 M883.64,505.7 v-7.3 M883.64,0.4 v7.3 M83.1,480.50 h7.3 M900.15,480.50 h-7.3 M83.1,453.98 h4.4 M900.15,453.98 h-4.4 M83.1,427.46 h4.4 M900.15,427.46 h-4.4 M83.1,400.94 h4.4 M900.15,400.94 h-4.4 M83.1,374.42 h7.3 M900.15,374.42 h-7.3 M83.1,347.90 h4.4 M900.15,347.90 h-4.4 M83.1,321.38 h4.4 M900.15,321.38 h-4.4 M83.1,294.86 h4.4 M900.15,294.86 h-4.4 M83.1,268.34 h7.3 M900.15,268.34 h-7.3 M83.1,241.82 h4.4 M900.15,241.82 h-4.4 M83.1,215.30 h4.4 M900.15,215.30 h-4.4 M83.1,188.78 h4.4 M900.15,188.78 h-4.4 M83.1,162.26 h7.3 M900.15,162.26 h-7.3 M83.1,135.74 h4.4 M900.15,135.74 h-4.4 M83.1,109.22 h4.4 M900.15,109.22 h-4.4 M83.1,82.70 h4.4 M900.15,82.70 h-4.4 M83.1,56.18 h7.3 M900.15,56.18 h-7.3 M83.1,29.66 h4.4 M900.15,29.66 h-4.4 M83.1,3.14 h4.4 M900.15,3.14 h-4.4" fill="none" stroke="#000" stroke-width="0.9"/>
<rect x="83.1" y="0.4" width="817.05" height="505.30" fill="none" stroke="#000" stroke-width="1.15"/>
<g font-family="'Liberation Sans', sans-serif" font-size="21.7" fill="#000">
<text x="84.17" y="530.70">0.4</text>
<text x="214.86" y="530.70">0.5</text>
<text x="345.55" y="530.70">0.6</text>
<text x="476.24" y="530.70">0.7</text>
<text x="606.93" y="530.70">0.8</text>
<text x="737.62" y="530.70">0.9</text>
<text x="868.31" y="530.70">1.0</text>
<text x="35.81" y="487.80">0.00</text>
<text x="36.06" y="381.72">0.02</text>
<text x="35.60" y="275.64">0.04</text>
<text x="35.92" y="169.56">0.06</text>
<text x="35.91" y="63.48">0.08</text>
<text x="485.42" y="566.70">z</text>
<text x="0" y="0" text-anchor="middle" transform="translate(19.80,252.90) rotate(-90)">Δ</text>
</g>
</svg>
</body></html>
